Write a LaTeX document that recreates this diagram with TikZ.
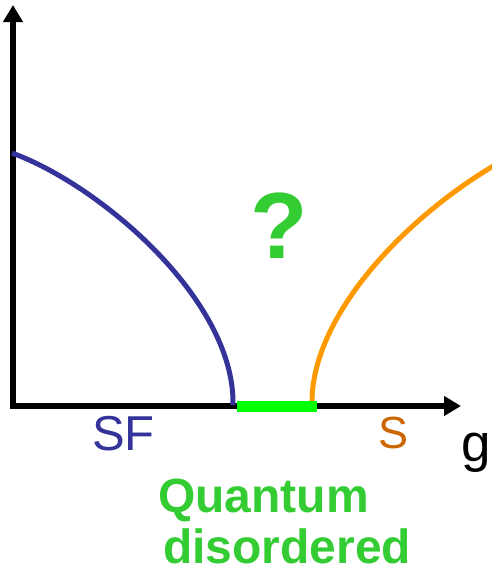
\documentclass[tikz,border=0pt]{standalone}
\usepackage{fontspec}
\setmainfont{Liberation Sans}
\usetikzlibrary{arrows.meta}
\definecolor{sfblue}{HTML}{333399}
\definecolor{sorange}{HTML}{FF9900}
\definecolor{stext}{HTML}{CC6600}
\definecolor{qgreen}{HTML}{33CC33}
\definecolor{bargreen}{HTML}{00FF00}
\tikzset{
  axis/.style={line width=5.2pt, -{Triangle[length=17pt,width=19pt]}},
  curve/.style={line width=5pt},
  lbl/.style={inner sep=0pt, anchor=base west},
}
\begin{document}
\begin{tikzpicture}[x=1pt,y=-1pt]
\useasboundingbox (0,0) rectangle (492,574);
\clip (0,0) rectangle (492,574);
\coordinate (o) at (13,406);
\coordinate (ytip) at (13,5);
\coordinate (xtip) at (461,406);
\coordinate (xstart) at (10.4,406);
\draw[axis] (o) -- (ytip);
\draw[axis] (xstart) -- (xtip);
\draw[curve, sfblue] (12,153) .. controls (100,185) and (235,300) .. (233,405);
\draw[curve, sorange] (312,405) .. controls (310,320) and (400,220) .. (500,162);
\fill[bargreen] (237,400.5) rectangle (317,411.5);
\node[lbl, text=sfblue, font=\fontsize{49}{54}\selectfont] (sf) at (92,450) {SF};
\node[lbl, text=stext, font=\fontsize{45}{50}\selectfont] (s) at (378,448) {S};
\node[lbl, text=black, font=\fontsize{53}{58}\selectfont] (g) at (461,461) {g};
\node[lbl, text=qgreen, font=\bfseries\fontsize{94}{98}\selectfont] (q) at (250,258) {?};
\node[lbl, text=qgreen, font=\bfseries\fontsize{48}{52}\selectfont] (qu) at (158,512) {Quantum};
\node[lbl, text=qgreen, font=\bfseries\fontsize{48}{52}\selectfont] (dis) at (163,563) {disordered};
\end{tikzpicture}
\end{document}
